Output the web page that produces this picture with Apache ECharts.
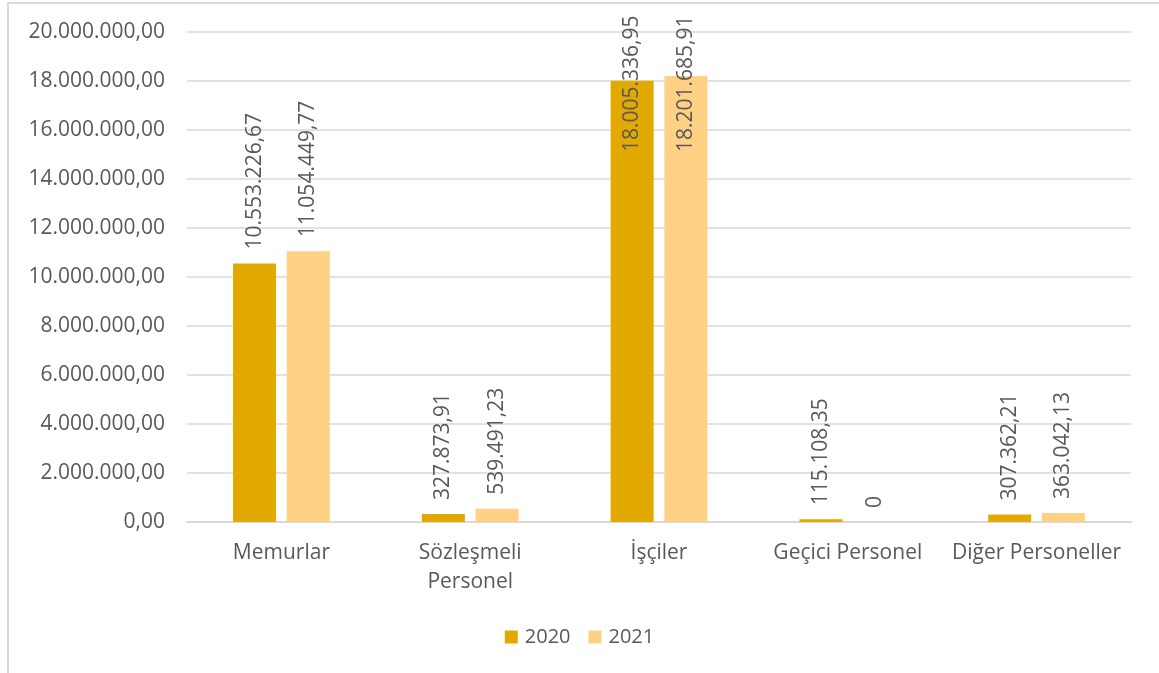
<!DOCTYPE html>
<html>
<head>
<meta charset="utf-8">
<script src="https://cdn.jsdelivr.net/npm/echarts@6/dist/echarts.min.js"></script>
<style>
html,body{margin:0;padding:0;background:#fff;width:1159px;height:673px;overflow:hidden;}
#frame{position:absolute;left:7px;top:2px;width:1200px;height:700px;border-left:2px solid #d9d9d9;border-top:2px solid #d9d9d9;box-sizing:border-box;}
#chart{position:absolute;left:0;top:0;width:1159px;height:673px;}
</style>
</head>
<body>
<div id="frame"></div>
<div id="chart"></div>
<script>
const categories = ['Memurlar', 'Sözleşmeli\nPersonel', 'İşçiler', 'Geçici Personel', 'Diğer Personeller'];
const seriesNames = ['2020', '2021'];
const values2020 = [10553226.67, 327873.91, 18005336.95, 115108.35, 307362.21];
const values2021 = [11054449.77, 539491.23, 18201685.91, 0, 363042.13];
const yTicks = { min: 0, max: 20000000, interval: 2000000 };

function fmtTR(v, dec) {
  const fixed = Math.abs(v).toFixed(dec);
  let [ip, dp] = fixed.split('.');
  ip = ip.replace(/\B(?=(\d{3})+(?!\d))/g, '.');
  return (v < 0 ? '-' : '') + ip + (dp ? ',' + dp : '');
}
function labelFmt(p) { return p.value === 0 ? '0' : fmtTR(p.value, 2); }

const FONT = 'Open Sans';
const TXT = '#595959';
const FS = 21;
const colors = ['#E2A900', '#FFD185'];
const labelCap = 15100000; // labels of bars above this are kept inside plot

const chart = echarts.init(document.getElementById('chart'), null, { renderer: 'canvas' });

function makeSeries(name, vals, color) {
  return {
    name: name,
    type: 'bar',
    data: vals.map(v => ({ value: v })),
    barWidth: 43,
    barGap: '25%',
    itemStyle: { color: color },
    label: {
      show: true,
      position: 'top',
      rotate: 90,
      align: 'left',
      verticalAlign: 'middle',
      distance: 14,
      fontFamily: FONT,
      fontSize: FS,
      color: TXT,
      formatter: labelFmt
    }
  };
}

chart.setOption({
  animation: false,
  color: colors,
  grid: { left: 187, right: 28, top: 32, bottom: 151, containLabel: false },
  legend: {
    data: seriesNames,
    bottom: 21,
    left: 'center',
    itemWidth: 13,
    itemHeight: 13,
    itemGap: 18,
    icon: 'rect',
    textStyle: { fontFamily: FONT, fontSize: 20, color: TXT, padding: [0, 0, 0, 2] }
  },
  xAxis: {
    type: 'category',
    data: categories,
    axisLine: { lineStyle: { color: '#d9d9d9', width: 2 } },
    axisTick: { show: false },
    axisLabel: { fontFamily: FONT, fontSize: FS, color: TXT, margin: 17, lineHeight: 29, interval: 0 }
  },
  yAxis: {
    type: 'value',
    min: yTicks.min,
    max: yTicks.max,
    interval: yTicks.interval,
    axisLine: { show: false },
    axisTick: { show: false },
    splitLine: { lineStyle: { color: '#d9d9d9', width: 1.5 } },
    axisLabel: { fontFamily: FONT, fontSize: FS, color: TXT, margin: 22, formatter: v => fmtTR(v, 2) }
  },
  series: [
    makeSeries(seriesNames[0], values2020, colors[0]),
    makeSeries(seriesNames[1], values2021, colors[1])
  ]
});

// Keep labels of tall bars inside plot area (computed through the axis scale)
function adjust(vals) {
  const capPx = chart.convertToPixel({ yAxisIndex: 0 }, labelCap);
  return vals.map(v => {
    if (v > labelCap) {
      const topPx = chart.convertToPixel({ yAxisIndex: 0 }, v);
      return { value: v, label: { position: ['50%', capPx - topPx] } };
    }
    return { value: v };
  });
}
chart.setOption({
  series: [
    { data: adjust(values2020) },
    { data: adjust(values2021) }
  ]
});
</script>
</body>
</html>
